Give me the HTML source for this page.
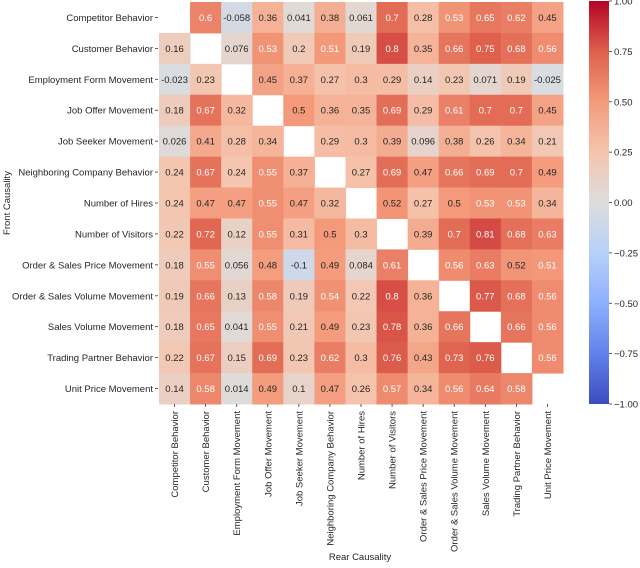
<!DOCTYPE html>
<html><head><meta charset="utf-8"><style>
body{margin:0;background:#fff;font-family:"Liberation Sans","DejaVu Sans",sans-serif}
svg text{font-family:"Liberation Sans","DejaVu Sans",sans-serif}
</style></head><body>
<svg id="chart" width="640" height="563" xmlns="http://www.w3.org/2000/svg"></svg>
<script>
const labels = ["Competitor Behavior","Customer Behavior","Employment Form Movement","Job Offer Movement","Job Seeker Movement","Neighboring Company Behavior","Number of Hires","Number of Visitors","Order & Sales Price Movement","Order & Sales Volume Movement","Sales Volume Movement","Trading Partner Behavior","Unit Price Movement"];
const row0 = [null,0.6,-0.058,0.36,0.041,0.38,0.061,0.7,0.28,0.53,0.65,0.62,0.45];
const row1 = [0.16,null,0.076,0.53,0.2,0.51,0.19,0.8,0.35,0.66,0.75,0.68,0.56];
const row2 = [-0.023,0.23,null,0.45,0.37,0.27,0.3,0.29,0.14,0.23,0.071,0.19,-0.025];
const row3 = [0.18,0.67,0.32,null,0.5,0.36,0.35,0.69,0.29,0.61,0.7,0.7,0.45];
const row4 = [0.026,0.41,0.28,0.34,null,0.29,0.3,0.39,0.096,0.38,0.26,0.34,0.21];
const row5 = [0.24,0.67,0.24,0.55,0.37,null,0.27,0.69,0.47,0.66,0.69,0.7,0.49];
const row6 = [0.24,0.47,0.47,0.55,0.47,0.32,null,0.52,0.27,0.5,0.53,0.53,0.34];
const row7 = [0.22,0.72,0.12,0.55,0.31,0.5,0.3,null,0.39,0.7,0.81,0.68,0.63];
const row8 = [0.18,0.55,0.056,0.48,-0.1,0.49,0.084,0.61,null,0.56,0.63,0.52,0.51];
const row9 = [0.19,0.66,0.13,0.58,0.19,0.54,0.22,0.8,0.36,null,0.77,0.68,0.56];
const row10 = [0.18,0.65,0.041,0.55,0.21,0.49,0.23,0.78,0.36,0.66,null,0.66,0.56];
const row11 = [0.22,0.67,0.15,0.69,0.23,0.62,0.3,0.76,0.43,0.73,0.76,null,0.56];
const row12 = [0.14,0.58,0.014,0.49,0.1,0.47,0.26,0.57,0.34,0.56,0.64,0.58,null];
const colorbarTicks = [1,0.75,0.5,0.25,0,-0.25,-0.5,-0.75,-1];
const rows=[row0,row1,row2,row3,row4,row5,row6,row7,row8,row9,row10,row11,row12];

const NS="http://www.w3.org/2000/svg";
const svg=document.getElementById('chart');
const X0=159,X1=563,Y0=2,Y1=404;
const n=labels.length, cw=(X1-X0)/n, ch=(Y1-Y0)/n;
const xScale=i=>X0+i*cw, yScale=i=>Y0+i*ch;
const stops=[[-1,[59,76,192]],[-0.75,[98,130,234]],[-0.5,[141,176,254]],[-0.25,[184,208,249]],[0,[221,221,221]],[0.25,[245,196,173]],[0.5,[244,154,123]],[0.75,[222,96,77]],[1,[180,4,38]]];
function cmap(v){for(let k=0;k<stops.length-1;k++){const[a,ca]=stops[k],[b,cb]=stops[k+1];if(v<=b){const t=(v-a)/(b-a);return ca.map((c,j)=>Math.round(c+(cb[j]-c)*t));}}return stops[8][1];}
function mk(tag,attrs,parent){const e=document.createElementNS(NS,tag);for(const k in attrs)e.setAttribute(k,attrs[k]);(parent||svg).appendChild(e);return e;}
rows.forEach((r,i)=>r.forEach((v,j)=>{
 if(v===null)return;
 const c=cmap(v);
 const rc=mk('rect',{x:xScale(j),y:yScale(i),width:cw+0.5,height:ch+0.5,fill:`rgb(${c})`});
 
 
 const t=mk('text',{x:xScale(j)+cw/2,y:yScale(i)+ch/2+3.5,'text-anchor':'middle','font-size':'9.5',fill:v>=0.53||(v>=0.505&&v<0.515)||(v>0.54)?'#fff':'#262626'});
 t.textContent=String(v);
 
 
}));
labels.forEach((l,i)=>{
 const y=yScale(i)+ch/2;
 mk('line',{x1:155,x2:158,y1:y,y2:y,stroke:'#333','stroke-width':0.8});
 const t=mk('text',{x:153,y:y+3.5,'text-anchor':'end','font-size':'9.5',fill:'#262626'});
 t.textContent=l;
 
 
 const x=xScale(i)+cw/2;
 mk('line',{x1:x,x2:x,y1:Y1,y2:Y1+3,stroke:'#333','stroke-width':0.8});
 const tx=mk('text',{x:0,y:0,'text-anchor':'end','font-size':'9.5',fill:'#262626',transform:`translate(${x+3.5},${Y1+7}) rotate(-90)`});
 tx.textContent=l;
 
 
});
const defs=mk('defs',{});const g=mk('linearGradient',{id:'cb',x1:0,y1:1,x2:0,y2:0},defs);
stops.forEach(([v,c])=>mk('stop',{offset:(v+1)/2,'stop-color':`rgb(${c})`},g));
const CB0=1,CB1=404,cbY=v=>CB1-(v+1)/2*(CB1-CB0);
const cb=mk('rect',{x:589,y:CB0,width:20,height:CB1-CB0,fill:'url(#cb)'});


colorbarTicks.forEach(v=>{
 const y=cbY(v);
 mk('line',{x1:609,x2:612,y1:y,y2:y,stroke:'#333','stroke-width':0.8});
 const t=mk('text',{x:614,y:y+3.5,'font-size':'9.5',fill:'#262626'});
 t.textContent=(v<0?'\u2212':'')+Math.abs(v).toFixed(2);
 
 
});
const yt=mk('text',{x:0,y:0,'text-anchor':'middle','font-size':'9.5',fill:'#262626',transform:'translate(10,203) rotate(-90)'});
yt.textContent='Front Causality';


const xt=mk('text',{x:360,y:560,'text-anchor':'middle','font-size':'9.5',fill:'#262626'});
xt.textContent='Rear Causality';


</script>
</body></html>
